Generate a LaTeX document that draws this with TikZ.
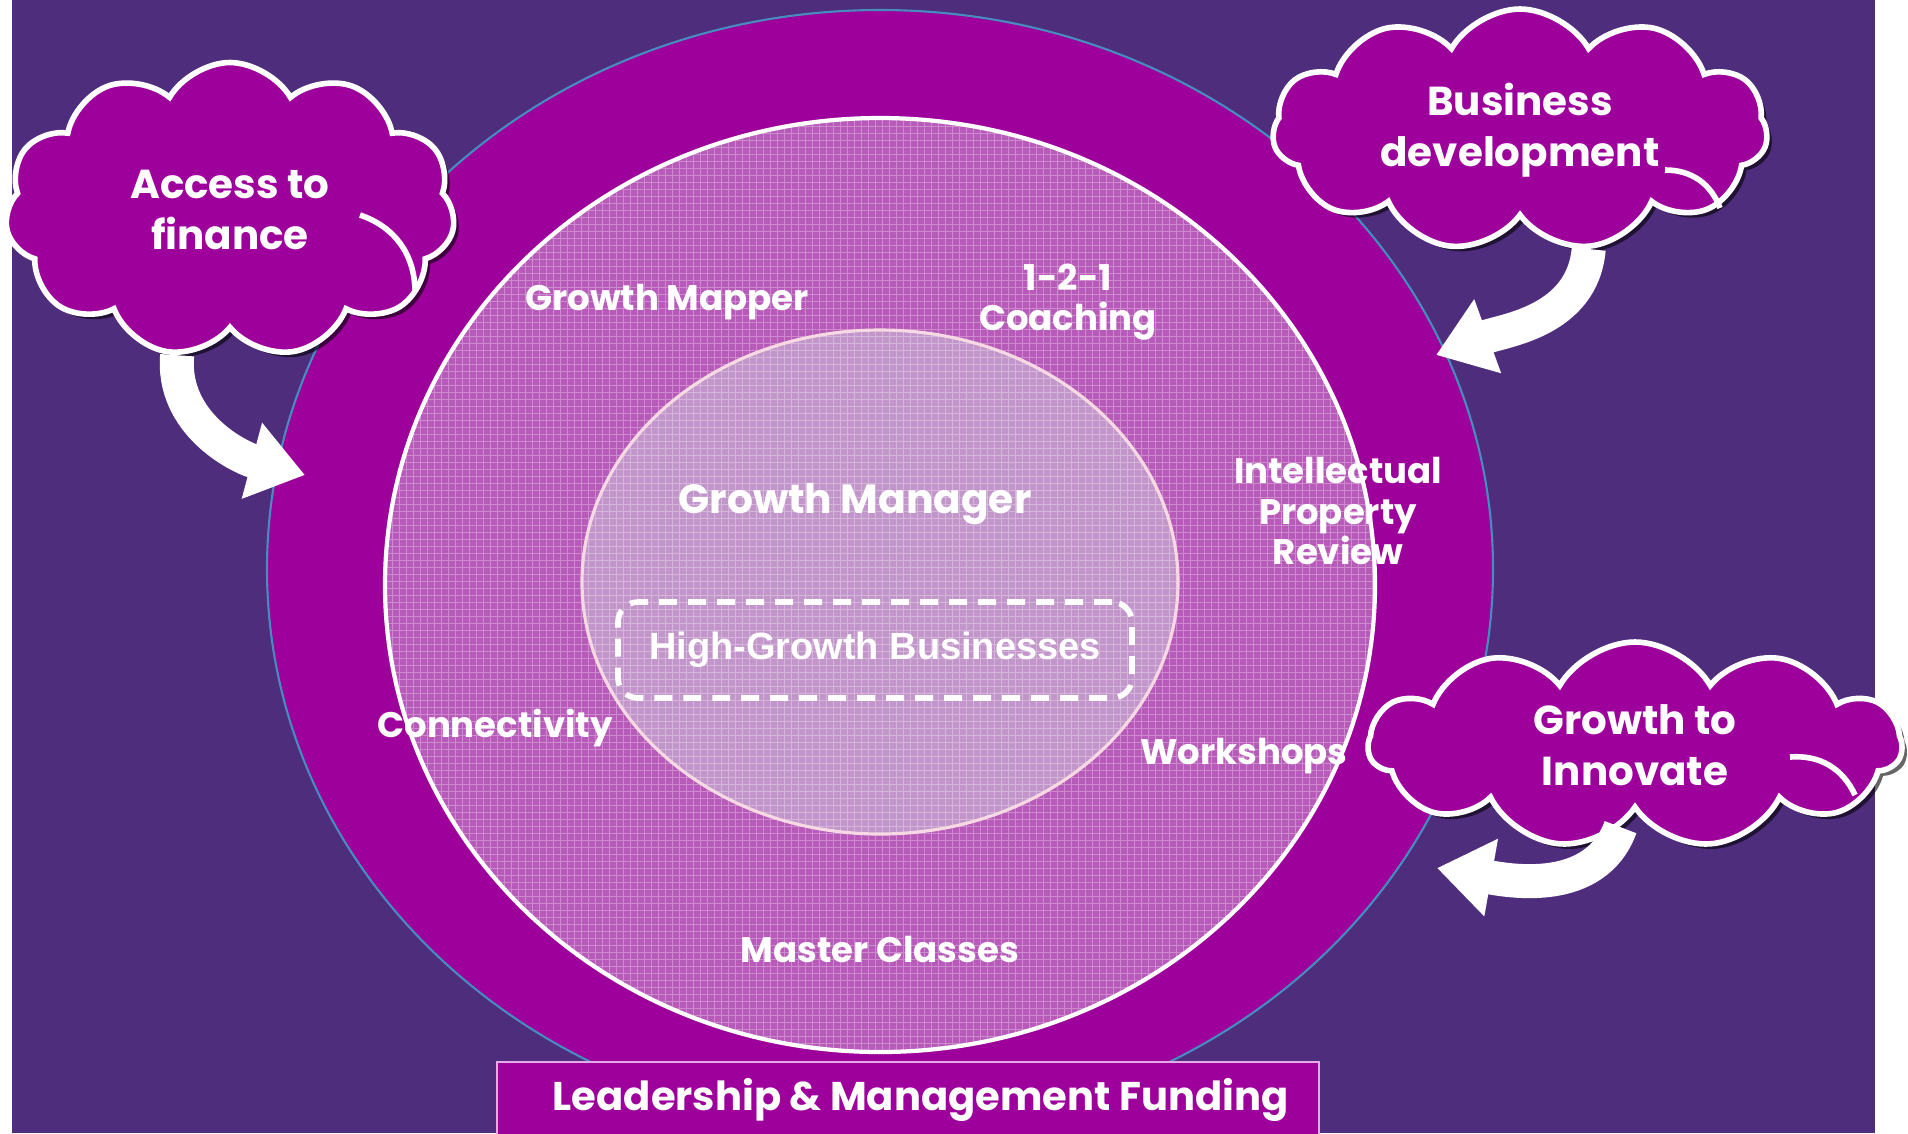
\documentclass[tikz,border=0pt]{standalone}
\usepackage{fontspec}
\setmainfont{Poppins}
\newfontfamily\arialfont{Liberation Sans}
\usetikzlibrary{positioning,shapes.symbols,arrows.meta,shadows}

\definecolor{bgpurple}{RGB}{79,45,125}
\definecolor{ringpurple}{RGB}{157,0,155}
\definecolor{midlilac}{RGB}{184,90,186}
\definecolor{innergrey}{RGB}{205,200,218}
\definecolor{ringblue}{RGB}{70,140,190}
\definecolor{boxedge}{RGB}{230,170,230}

\tikzset{
  cloudbox/.style={cloud, cloud puffs=11, cloud puff arc=120, cloud ignores aspect,
    fill=ringpurple, draw=white, line width=1.6pt, text=white, align=center,
    font=\bfseries\fontsize{11.5}{14.5}\selectfont,
    drop shadow={shadow xshift=0.05cm, shadow yshift=-0.05cm, fill=black, opacity=0.6}},
  cloudline/.style={draw=white, line width=1.6pt},
  ringlabel/.style={text=white, align=center, font=\bfseries\fontsize{10.1}{11.4}\selectfont},
  fatarrow/.style={draw=white, line width=0.34cm, -{Triangle[width=0.75cm,length=0.55cm]}},
}

\begin{document}
\begin{tikzpicture}
    \useasboundingbox (0,0) rectangle (19.08,-11.33);
    % Background
    \fill[white] (0,0) rectangle (19.08,-11.33);
    \fill[bgpurple] (0.12,0) rectangle (18.75,-11.33);
    % Rings
    \filldraw[fill=ringpurple, draw=ringblue, line width=0.6pt] (8.80,-5.69) ellipse (6.13 and 5.59);
    \begin{scope}
        \clip (8.80,-5.85) ellipse (4.95 and 4.67);
        \fill[midlilac] (8.80,-5.85) ellipse (4.95 and 4.67);
        \fill[innergrey, opacity=0.55] (8.80,-5.82) ellipse (2.98 and 2.52);
        \draw[white, opacity=0.3, line width=0.3pt, step=0.07] (3.8,-10.6) grid (13.8,-1.1);
    \end{scope}
    \draw[white, line width=1.2pt] (8.80,-5.85) ellipse (4.95 and 4.67);
    \draw[white!85!purple, line width=0.9pt] (8.80,-5.82) ellipse (2.98 and 2.52);

    % Nodes
    \node[draw=white, line width=1.6pt, dash pattern=on 0.18cm off 0.11cm, rounded corners=0.2cm,
          minimum width=5.14cm, minimum height=0.96cm, text=white,
          font=\arialfont\bfseries\fontsize{10.8}{12}\selectfont] (hgb) at (8.75,-6.50) {High-Growth Businesses};
    \node[ringlabel] (mapper) at (6.67,-3.02) {Growth Mapper};
    \node[ringlabel] (coach) at (10.68,-3.02) {1-2-1\\Coaching};
    \node[ringlabel] (ipr) at (13.38,-5.11) {Intellectual\\Property\\Review};
    \node[ringlabel, font=\bfseries\fontsize{11.6}{14}\selectfont] (gm) at (8.55,-5.04) {Growth Manager};
    \node[ringlabel] (conn) at (4.95,-7.28) {Connectivity};
    \node[ringlabel] (work) at (12.44,-7.56) {Workshops};
    \node[ringlabel] (mc) at (8.80,-9.49) {Master Classes};
    \node[fill=ringpurple, draw=boxedge, line width=0.6pt, anchor=north west,
          minimum width=8.22cm, minimum height=0.76cm, text=white,
          font=\bfseries\fontsize{11.4}{14}\selectfont] (lmf) at (4.96,-10.61) {\hspace{0.25cm}Leadership \& Management Funding};

    % Clouds
    \node[cloudbox, minimum width=4.5cm, minimum height=2.95cm] (fin) at (2.30,-2.10) {Access to\\finance};
    \node[cloudbox, minimum width=4.95cm, minimum height=2.42cm] (bus) at (15.20,-1.30) {Business\\development};
    \node[cloudbox, minimum width=5.33cm, minimum height=2.06cm] (inn) at (16.35,-7.45) {Growth to\\Innovate};
    \draw[cloudline] ([shift={(1.30,-0.05)}]fin.center) to[bend left=35] ([shift={(1.85,-0.80)}]fin.center);
    \draw[cloudline] ([shift={(1.45,-0.40)}]bus.center) to[bend left=35] ([shift={(2.00,-0.78)}]bus.center);
    \draw[cloudline] ([shift={(1.55,-0.12)}]inn.center) to[bend left=35] ([shift={(2.20,-0.50)}]inn.center);

    % Arrows
    \coordinate (finend) at (3.05,-4.75);
    \coordinate (busend) at (14.36,-3.55);
    \coordinate (innend) at (14.37,-8.68);
    \draw[fatarrow] (fin.250) to[out=-95, in=165] (finend);
    \draw[fatarrow] (bus.-60) to[out=-95, in=20] (busend);
    \draw[fatarrow] (inn.-100) to[out=-110, in=-10] (innend);
\end{tikzpicture}
\end{document}
